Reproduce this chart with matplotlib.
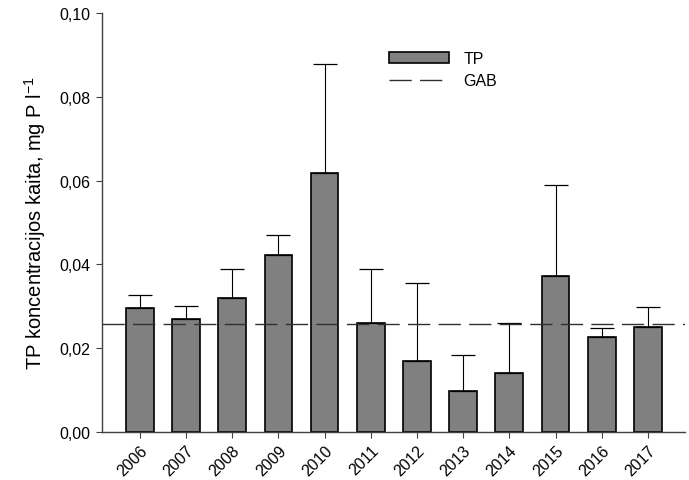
import numpy as np
import matplotlib
matplotlib.use("Agg")
import matplotlib.pyplot as plt
from matplotlib.ticker import FuncFormatter

plt.rcParams['font.family'] = ['Liberation Sans', 'DejaVu Sans']
plt.rcParams['mathtext.fontset'] = 'custom'
plt.rcParams['mathtext.rm'] = 'Liberation Sans'
plt.rcParams['mathtext.default'] = 'regular'

# annual mean TP concentration and its upper error
years = ['2006', '2007', '2008', '2009', '2010', '2011',
         '2012', '2013', '2014', '2015', '2016', '2017']
tp = [0.0295, 0.0269, 0.0319, 0.0423, 0.0619, 0.0259,
      0.0170, 0.0098, 0.0142, 0.0372, 0.0227, 0.0251]
tp_err = [0.0033, 0.0032, 0.0071, 0.0047, 0.0260, 0.0131,
          0.0186, 0.0086, 0.0118, 0.0217, 0.0022, 0.0047]
gab = 0.0258

fig = plt.figure(figsize=(6.89, 4.81), dpi=100)
ax = fig.add_axes([0.148, 0.0998, 0.846, 0.871])

x = np.arange(len(years))
bars = ax.bar(x, tp, width=0.6, color='#808080', edgecolor='black',
              linewidth=1.2, label='TP', zorder=2)
ax.errorbar(x, tp, yerr=[np.zeros(len(tp)), tp_err], fmt='none',
            ecolor='black', elinewidth=0.8, capsize=8.5, capthick=0.9,
            zorder=3)
gab_line = ax.axhline(gab, color='#303030', linewidth=1.0, dashes=(16, 6),
                      label='GAB', zorder=4)

ax.set_xlim(-0.82, 11.8)
ax.set_ylim(0, 0.10)
ax.set_xticks(x)
ax.set_xticklabels(years, rotation=45, ha='right', rotation_mode='anchor',
                   fontsize=11.5)
ax.set_yticks(np.arange(0, 0.101, 0.02))
ax.yaxis.set_major_formatter(FuncFormatter(lambda v, p: ('%.2f' % v).replace('.', ',')))
ax.tick_params(axis='y', labelsize=11.5, direction='out', length=4.5,
               color='#404040', pad=4)
ax.tick_params(axis='x', direction='out', length=4.5, color='#404040', pad=3)

for side in ['top', 'right']:
    ax.spines[side].set_visible(False)
for side in ['left', 'bottom']:
    ax.spines[side].set_color('#404040')
    ax.spines[side].set_linewidth(1.0)

ax.set_ylabel('TP koncentracijos kaita, mg P l$^{-1}$', fontsize=14.5,
              labelpad=8)

ax.legend([bars, gab_line], ['TP', 'GAB'], loc='upper left',
          bbox_to_anchor=(0.4923, 0.909), frameon=False, fontsize=11.5,
          borderaxespad=0, borderpad=0, handlelength=3.75, handleheight=0.75,
          handletextpad=0.9, labelspacing=0.45)

fig.savefig('out.png', dpi=100)
